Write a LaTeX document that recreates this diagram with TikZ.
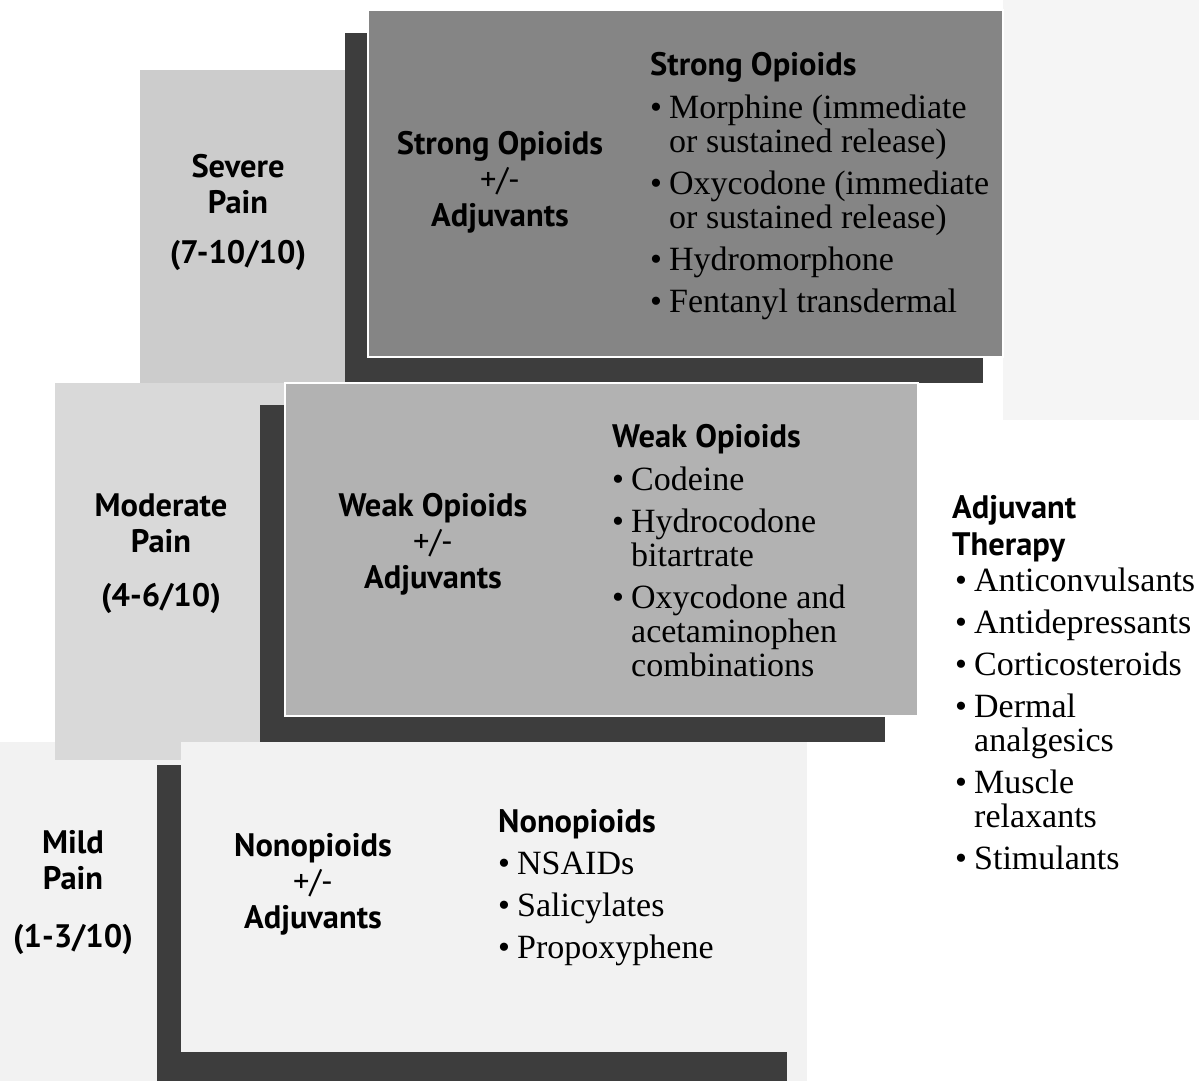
\documentclass[tikz,border=0pt]{standalone}
\usepackage{fontspec}
\setmainfont{Liberation Serif}
\newfontfamily\labelsf{PT Sans}
\usetikzlibrary{positioning}

\newcommand{\itm}{\makebox[19pt][l]{\textbullet}}
\newcommand{\ind}{\hspace*{19pt}}

\tikzset{
  shade/.style={fill=black!76},
  stepbox/.style={draw=white,line width=1.2pt},
  lvl/.style={font=\labelsf\bfseries\fontsize{32.5}{36}\selectfont,align=center,inner sep=0pt},
  head/.style={font=\labelsf\bfseries\fontsize{32.5}{37}\selectfont,anchor=base west,inner sep=0pt},
  drugs/.style={font=\fontsize{34}{34}\selectfont,align=left,inner sep=0pt},
}

\begin{document}
\begin{tikzpicture}[x=1pt,y=-1pt]
\useasboundingbox (0,0) rectangle (1199,1081);

% background tints
\fill[black!4] (1003,0) rectangle (1199,420);
\fill[black!5] (0,742) rectangle (807,1081);
\fill[black!20] (140,70) rectangle (345,383);
\fill[black!15] (55,383) rectangle (285,760);

% steps
\fill[shade] (345,33) rectangle (983,383);
\fill[black!48,stepbox] (368,10) rectangle (1003,357);
\fill[shade] (260,405) rectangle (885,742);
\fill[black!30,stepbox] (285,383) rectangle (918,716);
\fill[shade] (157,765) rectangle (787,1081);
\fill[black!5] (181,742) rectangle (807,1052);

% pain levels
\node[lvl] (sev) at (238,212) {Severe\\Pain\\[14pt](7-10/10)};
\node[lvl] (mod) at (161,554) {Moderate\\Pain\\[18pt](4-6/10)};
\node[lvl] (mild) at (73,893) {Mild\\Pain\\[22pt](1-3/10)};

% drug classes
\node[lvl] (strong) at (500,182) {Strong Opioids\\{\mdseries +/-}\\Adjuvants};
\node[lvl] (weak) at (433,544) {Weak Opioids\\{\mdseries +/-}\\Adjuvants};
\node[lvl] (nonop) at (313,884) {Nonopioids\\{\mdseries +/-}\\Adjuvants};

% lists
\node[head] (strongH) at (650,75) {Strong Opioids};
\node[drugs,below=13pt of strongH.south west,anchor=north west] (strongL)
  {\itm Morphine (immediate\\ \ind or sustained release)\\[8pt]
   \itm Oxycodone (immediate\\ \ind or sustained release)\\[8pt]
   \itm Hydromorphone\\[8pt]
   \itm Fentanyl transdermal};

\node[head] (weakH) at (612,447) {Weak Opioids};
\node[drugs,below=13pt of weakH.south west,anchor=north west] (weakL)
  {\itm Codeine\\[8pt]
   \itm Hydrocodone\\ \ind bitartrate\\[8pt]
   \itm Oxycodone and\\ \ind acetaminophen\\ \ind combinations};

\node[head] (nonopH) at (498,832) {Nonopioids};
\node[drugs,below=13pt of nonopH.south west,anchor=north west] (nonopL)
  {\itm NSAIDs\\[8pt]
   \itm Salicylates\\[8pt]
   \itm Propoxyphene};

% adjuvants
\node[head,align=left] (adjH) at (952,555) {Adjuvant\\Therapy};
\node[drugs,anchor=north west] (adjL) at (955,568)
  {\itm Anticonvulsants\\[8pt]
   \itm Antidepressants\\[8pt]
   \itm Corticosteroids\\[8pt]
   \itm Dermal\\ \ind analgesics\\[8pt]
   \itm Muscle\\ \ind relaxants\\[8pt]
   \itm Stimulants};
\end{tikzpicture}
\end{document}
